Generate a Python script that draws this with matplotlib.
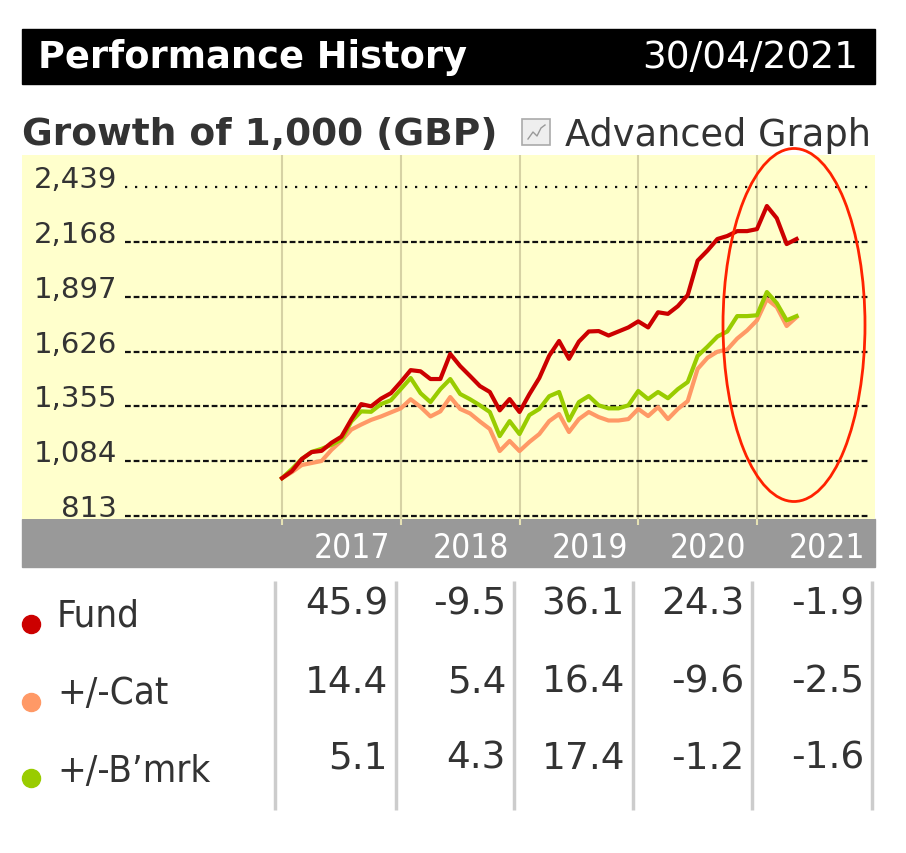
import matplotlib
matplotlib.use("Agg")
import matplotlib.pyplot as plt
from matplotlib.patches import Rectangle, Ellipse
import numpy as np

# data (monthly, end of Dec 2016 -> end of Apr 2021)
years = [2017, 2018, 2019, 2020, 2021]
y_ticks = [813, 1084, 1355, 1626, 1897, 2168, 2439]

fund = [1000, 1035, 1095, 1129, 1135, 1175, 1205, 1290, 1366, 1355, 1393, 1420,
        1475, 1534, 1528, 1490, 1490, 1614, 1554, 1505, 1455, 1426, 1335, 1391,
        1327, 1415, 1495, 1605, 1678, 1590, 1675, 1725, 1727, 1705, 1725, 1745,
        1775, 1745, 1820, 1812, 1850, 1905, 2075, 2125, 2182, 2197, 2221, 2221,
        2231, 2345, 2285, 2157, 2182]
bmrk = [1000, 1045, 1095, 1130, 1145, 1165, 1190, 1280, 1330, 1328, 1366, 1385,
        1440, 1495, 1420, 1376, 1440, 1490, 1416, 1390, 1360, 1327, 1208, 1282,
        1218, 1312, 1342, 1405, 1426, 1285, 1376, 1406, 1360, 1345, 1345, 1360,
        1431, 1391, 1426, 1395, 1440, 1475, 1604, 1650, 1700, 1725, 1801, 1801,
        1805, 1920, 1865, 1780, 1801]
cat = [1000, 1030, 1065, 1075, 1085, 1140, 1185, 1240, 1265, 1288, 1305, 1325,
       1345, 1390, 1352, 1305, 1330, 1401, 1342, 1320, 1280, 1243, 1134, 1184,
       1134, 1179, 1218, 1282, 1317, 1228, 1292, 1327, 1302, 1285, 1285, 1292,
       1342, 1307, 1351, 1292, 1342, 1381, 1540, 1595, 1625, 1636, 1690, 1730,
       1780, 1885, 1846, 1752, 1796]
months = 2017 + np.arange(len(fund)) / 12

row_labels = ["Fund", "+/-Cat", "+/-B\u2019mrk"]
row_colors = ["#cc0000", "#ff9966", "#99cc00"]
table_vals = [
    [45.9, -9.5, 36.1, 24.3, -1.9],
    [14.4, 5.4, 16.4, -9.6, -2.5],
    [5.1, 4.3, 17.4, -1.2, -1.6],
]

W, H = 906, 854

fig = plt.figure(figsize=(W / 100, H / 100), dpi=100)
fig.patch.set_facecolor("white")

# chart area
ax = fig.add_axes([22 / W, (H - 520) / H, 853 / W, 364 / H])
ax.set_facecolor("#ffffcc")
for s in ax.spines.values():
    s.set_visible(False)
ax.set_xlim(2014.81, 2021.994)
ax.set_ylim(798.2, 2597.2)

ax.vlines(years, 798.2, 2597.2, color="#d6d2a4", lw=1.5, zorder=1)
for v in y_ticks:
    ls = (0, (1, 3.5)) if v == max(y_ticks) else (0, (2.6, 1.3))
    ax.hlines(v, 2015.678, 2021.95, colors="#111111", lw=1.6, linestyles=ls, zorder=2)
    ax.text(2015.61, v, f"{v:,}", ha="right", va="baseline", fontsize=21, color="#333333")

ax.plot(months, cat, color="#ff9966", lw=3, zorder=3)
ax.plot(months, bmrk, color="#99cc00", lw=3, zorder=4)
ax.plot(months, fund, color="#cc0000", lw=3, zorder=5)

ax.set_yticks([])
ax.set_xticks([y + 0.59 for y in years])
ax.set_xticklabels([str(y) for y in years])
ax.set_xticks(years, minor=True)
ax.tick_params(axis="x", which="major", length=0, pad=9, labelcolor="white", labelsize=24)
ax.tick_params(axis="x", which="minor", length=4, width=1.5, color="#e6e2b4")
for lbl in ax.get_xticklabels():
    lbl.set_fontstretch("condensed")

# grey band under the chart
fig.add_artist(Rectangle((22 / W, (H - 568) / H), 853 / W, 48 / H,
                         transform=fig.transFigure, color="#999999", zorder=-1))

# overlay in pixel coords for header, annotation and table
ov = fig.add_axes([0, 0, 1, 1])
ov.set_xlim(0, W)
ov.set_ylim(H, 0)
ov.axis("off")
ov.set_zorder(5)

ov.add_patch(Rectangle((22, 30), 853, 55, color="black"))
ov.text(38, 58, "Performance History", color="white", fontweight="bold",
        fontsize=26.5, va="center")
ov.text(858, 58, "30/04/2021", color="white", fontsize=27, ha="right", va="center")

ov.text(22, 135, "Growth of 1,000 (GBP)", color="#333333", fontweight="bold",
        fontsize=27, va="center")
ov.add_patch(Rectangle((522, 120), 28, 26, fc="#eeeeee", ec="#aaaaaa", lw=1.2))
ov.plot([528, 533, 537, 541, 545], [140, 133, 137, 129, 126], color="#999999", lw=1)
ov.text(565, 135, "Advanced Graph", color="#333333", fontsize=26.5, va="center")

ov.add_patch(Ellipse((794, 326), 142, 353, fill=False, ec="#ff2200", lw=2))

# table
seps = [275, 396, 514, 633, 752, 872]
ov.vlines(seps, 582, 811, color="#cccccc", lw=2.5)
num_y = [605, 683, 759]
lab_y = [617, 694, 772]
dot_y = [625, 703, 779]
for r in range(3):
    ov.plot(31, dot_y[r], "o", ms=13, color=row_colors[r])
    ov.text(57, lab_y[r], row_labels[r], fontsize=27.5, fontstretch="condensed",
            color="#333333", va="center")
    for c in range(5):
        ov.text(seps[c + 1] - 8, num_y[r], f"{table_vals[r][c]:.1f}", fontsize=27,
                color="#333333", ha="right", va="center")

fig.savefig("out.png", dpi=100)
